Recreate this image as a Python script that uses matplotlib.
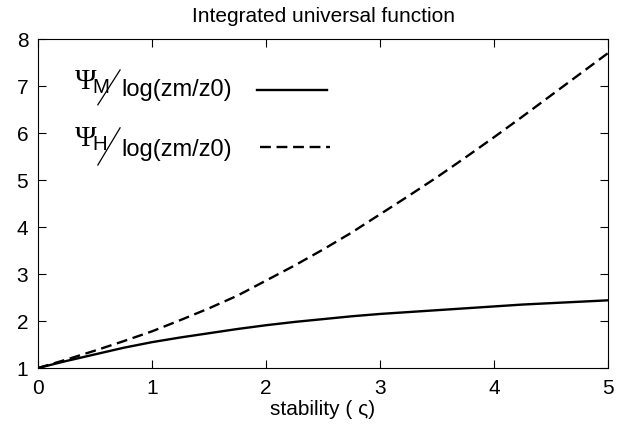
import matplotlib
matplotlib.use("Agg")
import matplotlib.pyplot as plt
from matplotlib.lines import Line2D

plt.rcParams['font.family'] = ['Liberation Sans', 'DejaVu Sans']
plt.rcParams['mathtext.fontset'] = 'custom'
plt.rcParams['mathtext.rm'] = 'Liberation Serif'
plt.rcParams['mathtext.sf'] = 'Liberation Sans'

zeta = [0, 0.25, 0.5, 0.75, 1, 1.25, 1.5, 1.75, 2, 2.25, 2.5, 2.75, 3,
        3.25, 3.5, 3.75, 4, 4.25, 4.5, 4.75, 5]
psi_m = [1.00, 1.15, 1.29, 1.43, 1.55, 1.65, 1.74, 1.83, 1.91, 1.98, 2.04,
         2.10, 2.15, 2.19, 2.23, 2.27, 2.31, 2.35, 2.38, 2.41, 2.44]
psi_h = [1.00, 1.18, 1.37, 1.57, 1.78, 2.02, 2.27, 2.54, 2.86, 3.18, 3.52,
         3.88, 4.27, 4.66, 5.06, 5.48, 5.91, 6.35, 6.80, 7.25, 7.70]
xticks = [0, 1, 2, 3, 4, 5]
yticks = [1, 2, 3, 4, 5, 6, 7, 8]

LW = 1.7
DASH = (4.6, 2.4)

fig = plt.figure(figsize=(6.29, 4.36), dpi=100)
ax = fig.add_axes([38/629, 1-368/436, 570/629, 329/436])

ax.plot(zeta, psi_m, color='black', lw=LW)
ax.plot(zeta, psi_h, color='black', lw=LW, dashes=DASH)

ax.set_xlim(0, 5)
ax.set_ylim(1, 8)
ax.set_xticks(xticks)
ax.set_yticks(yticks)
ax.tick_params(direction='in', top=True, right=True, length=6, width=0.8,
               labelsize=15)
ax.tick_params(axis='x', pad=8)
ax.tick_params(axis='y', pad=7)
for s in ax.spines.values():
    s.set_linewidth(0.8)

ax.set_title('Integrated universal function', fontsize=15, pad=12)
ax.set_xlabel('stability ( ς)', fontsize=15, labelpad=1)

# key
ax.add_line(Line2D([0.384, 0.507], [0.845, 0.845], transform=ax.transAxes,
                   color='black', lw=LW))
ax.add_line(Line2D([0.39, 0.513], [0.672, 0.672], transform=ax.transAxes,
                   color='black', lw=LW, dashes=DASH))

rows = [
    # psi y, slash y0, slash y1, log y, subscript
    (0.868, 0.80, 0.906, 0.845, 'M'),
    (0.695, 0.617, 0.730, 0.663, 'H'),
]
for py, s0, s1, ly, sub in rows:
    ax.text(0.064, py, r'$\mathrm{\Psi}_{\!\mathsf{%s}}$' % sub,
            transform=ax.transAxes, fontsize=21, va='center', ha='left')
    ax.add_line(Line2D([0.105, 0.144], [s0, s1],
                       transform=ax.transAxes, color='black', lw=0.9))
    ax.text(0.147, ly, 'log(zm/z0)', transform=ax.transAxes, fontsize=17,
            va='center', ha='left')

fig.savefig('out.png', dpi=100)
